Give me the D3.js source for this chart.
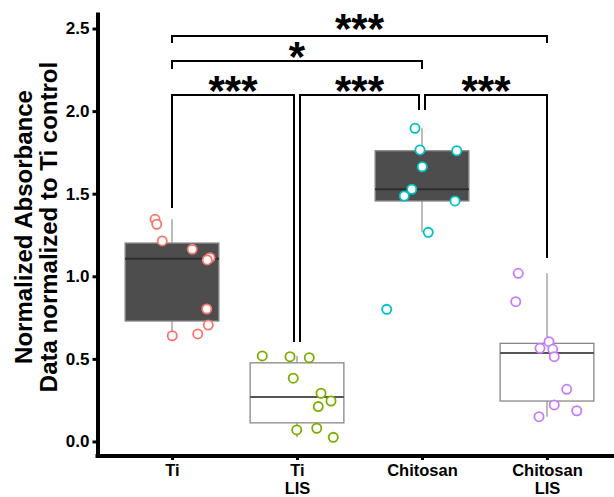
<!DOCTYPE html>
<html>
<head>
<meta charset="utf-8">
<script src="https://cdn.jsdelivr.net/npm/d3@7"></script>
<style>
  body { margin: 0; background: #fff; }
  text { font-family: "Liberation Sans", Arial, sans-serif; font-weight: bold; }
</style>
</head>
<body>
<svg id="chart" width="614" height="497"></svg>
<script>
// groups along the x axis
const groups = ["Ti", "Ti LIS", "Chitosan", "Chitosan LIS"];
const groupLabels = [["Ti"], ["Ti", "LIS"], ["Chitosan"], ["Chitosan", "LIS"]];
const pointColors = ["#F8766D", "#7CAE00", "#00BFC4", "#C77CFF"];
const boxFills = ["#4d4d4d", "#ffffff", "#4d4d4d", "#ffffff"];

const tiValues = [1.345, 1.315, 1.214, 1.163, 1.113, 1.099, 0.802, 0.705, 0.651, 0.640];
const tiJitter = [-0.136, -0.122, -0.078, 0.162, 0.304, 0.282, 0.278, 0.290, 0.206, 0.002];
const tiLisValues = [0.518, 0.513, 0.507, 0.383, 0.292, 0.245, 0.211, 0.080, 0.070, 0.025];
const tiLisJitter = [-0.278, -0.056, 0.098, -0.030, 0.192, 0.272, 0.170, 0.158, -0.002, 0.290];
const chitosanValues = [1.896, 1.765, 1.760, 1.663, 1.527, 1.486, 1.456, 1.266, 0.800];
const chitosanJitter = [-0.056, -0.016, 0.278, 0.002, -0.082, -0.142, 0.264, 0.050, -0.282];
const chitLisValues = [1.018, 0.846, 0.604, 0.564, 0.558, 0.513, 0.316, 0.221, 0.186, 0.150];
const chitLisJitter = [-0.230, -0.250, 0.016, -0.056, 0.046, 0.058, 0.158, 0.058, 0.238, -0.064];

const yTicks = [0, 0.5, 1, 1.5, 2, 2.5];

// significance brackets: [from, to, bar y, tip end at "from", tip end at "to", label, label y]
const brackets = [
    ["Ti", "Ti LIS", 2.097, 1.413, 0.602, "***", 2.097],
    ["Ti LIS", "Chitosan", 2.097, 0.602, 2.006, "***", 2.097],
    ["Chitosan", "Chitosan LIS", 2.097, 2.006, 1.11, "***", 2.097],
    ["Ti", "Chitosan", 2.303, 2.255, 2.255, "*", 2.303],
    ["Ti", "Chitosan LIS", 2.455, 2.412, 2.412, "***", 2.475]
];

const values = [tiValues, tiLisValues, chitosanValues, chitLisValues];
const jitters = [tiJitter, tiLisJitter, chitosanJitter, chitLisJitter];

const svg = d3.select("#chart");

const x = d3.scalePoint().domain(groups).range([97, 622]).padding(0.6);
const y = d3.scaleLinear().domain([-0.094, 2.6]).range([457, 12]);
const step = x.step();
const boxW = step * 0.75;

// boxes
groups.forEach((g, i) => {
    const v = values[i].slice().sort(d3.ascending);
    const q1 = d3.quantile(v, 0.25);
    const med = d3.quantile(v, 0.5);
    const q3 = d3.quantile(v, 0.75);
    const iqr = q3 - q1;
    const lo = d3.min(v.filter((d) => d >= q1 - 1.5 * iqr));
    const hi = d3.max(v.filter((d) => d <= q3 + 1.5 * iqr));
    const cx = x(g);
    const box = svg.append("g");

    box.append("line")
        .attr("x1", cx).attr("x2", cx)
        .attr("y1", y(hi)).attr("y2", y(q3))
        .attr("stroke", "#999").attr("stroke-width", 1.3);
    box.append("line")
        .attr("x1", cx).attr("x2", cx)
        .attr("y1", y(q1)).attr("y2", y(lo))
        .attr("stroke", "#999").attr("stroke-width", 1.3);
    box.append("rect")
        .attr("x", cx - boxW / 2)
        .attr("y", y(q3))
        .attr("width", boxW)
        .attr("height", y(q1) - y(q3))
        .attr("fill", boxFills[i])
        .attr("stroke", "#888")
        .attr("stroke-width", 1.3);
    box.append("line")
        .attr("x1", cx - boxW / 2).attr("x2", cx + boxW / 2)
        .attr("y1", y(med)).attr("y2", y(med))
        .attr("stroke", i % 2 === 0 ? "#2e2e2e" : "#555")
        .attr("stroke-width", 2);
});

// jittered points
groups.forEach((g, i) => {
    svg.append("g")
        .selectAll("circle")
        .data(values[i])
        .enter()
        .append("circle")
        .attr("cx", (d, j) => x(g) + jitters[i][j] * step)
        .attr("cy", (d) => y(d))
        .attr("r", 4.6)
        .attr("fill", "#fff")
        .attr("stroke", pointColors[i])
        .attr("stroke-width", 1.8);
});

// axes
const yAxis = svg.append("g")
    .attr("transform", "translate(97.5,0)")
    .call(d3.axisLeft(y).tickValues(yTicks).tickFormat(d3.format(".1f")).tickSize(5).tickSizeOuter(0).tickPadding(3));
yAxis.select(".domain").attr("stroke-width", 4);
yAxis.selectAll(".tick line").attr("stroke-width", 3);
yAxis.selectAll(".tick text").attr("font-size", 17).attr("fill", "#000")
    .style("font-family", "'Liberation Sans', Arial, sans-serif");

const xAxis = svg.append("g")
    .attr("transform", "translate(0,456)")
    .call(d3.axisBottom(x).tickSize(4).tickSizeOuter(0).tickFormat(""));
xAxis.select(".domain").attr("stroke-width", 4).attr("d", "M95.5,0H622");
xAxis.selectAll(".tick line").attr("stroke-width", 3);
xAxis.selectAll(".tick")
    .append("text")
    .attr("text-anchor", "middle")
    .attr("fill", "#000")
    .attr("font-size", 16.5)
    .selectAll("tspan")
    .data((d, i) => groupLabels[i])
    .enter()
    .append("tspan")
    .attr("x", 0)
    .attr("y", (d, k) => 19.5 + k * 18.5)
    .text((d) => d);

// y axis title
svg.append("text")
    .attr("transform", "translate(32,227) rotate(-90)")
    .attr("text-anchor", "middle")
    .attr("font-size", 24)
    .attr("fill", "#000")
    .selectAll("tspan")
    .data(["Normalized Absorbance", "Data normalized to Ti control"])
    .enter()
    .append("tspan")
    .attr("x", 0)
    .attr("y", (d, k) => k * 25)
    .text((d) => d);

// significance brackets
const sameLevel = (name, yv, side) =>
    brackets.some((b) => b[2] === yv && b[side] === name);

brackets.forEach((b) => {
    const [from, to, yv, tipFrom, tipTo, label, labelY] = b;
    const x1 = x(from) + (sameLevel(from, yv, 1) ? 3 : 0);
    const x2 = x(to) - (sameLevel(to, yv, 0) ? 3 : 0);
    svg.append("path")
        .attr("d", `M${x1},${y(tipFrom)}V${y(yv)}H${x2}V${y(tipTo)}`)
        .attr("fill", "none")
        .attr("stroke", "#000")
        .attr("stroke-width", 2);
    svg.append("text")
        .attr("x", (x1 + x2) / 2)
        .attr("y", y(labelY) + 10)
        .attr("text-anchor", "middle")
        .attr("font-size", 42)
        .attr("fill", "#000")
        .text(label);
});
</script>
</body>
</html>
